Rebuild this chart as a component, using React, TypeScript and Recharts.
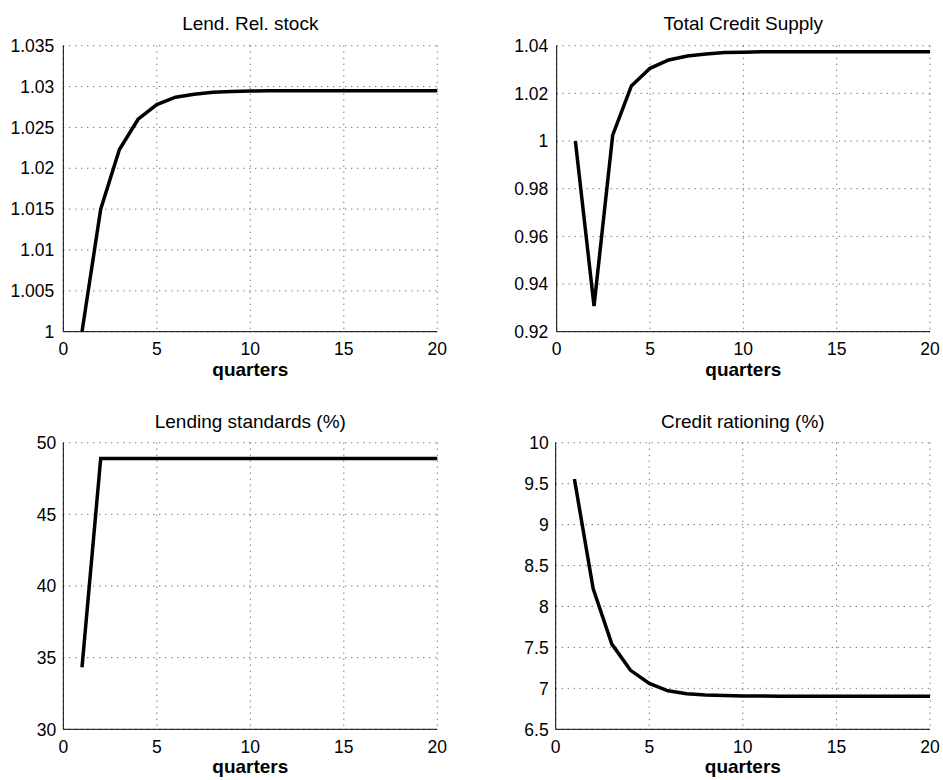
import React from 'react';
import { LineChart, Line, XAxis, YAxis, CartesianGrid } from 'recharts';

const quarters = [1, 2, 3, 4, 5, 6, 7, 8, 9, 10, 11, 12, 13, 14, 15, 16, 17, 18, 19, 20];

const lendRelStock = [
  1.0, 1.015, 1.0223, 1.026, 1.0278, 1.0287, 1.02905, 1.0293, 1.0294, 1.02945,
  1.0295, 1.0295, 1.0295, 1.0295, 1.0295, 1.0295, 1.0295, 1.0295, 1.0295, 1.0295,
];
const totalCreditSupply = [
  1.0, 0.9308, 1.0025, 1.0231, 1.0305, 1.034, 1.0357, 1.0365, 1.0371, 1.0373,
  1.0375, 1.0375, 1.0375, 1.0375, 1.0375, 1.0375, 1.0375, 1.0375, 1.0375, 1.0375,
];
const lendingStandards = [
  34.33, 48.9, 48.9, 48.9, 48.9, 48.9, 48.9, 48.9, 48.9, 48.9,
  48.9, 48.9, 48.9, 48.9, 48.9, 48.9, 48.9, 48.9, 48.9, 48.9,
];
const creditRationing = [
  9.556, 8.22, 7.54, 7.22, 7.06, 6.97, 6.935, 6.92, 6.912, 6.908,
  6.906, 6.905, 6.905, 6.905, 6.905, 6.905, 6.905, 6.905, 6.905, 6.905,
];

const xTicks = [0, 5, 10, 15, 20];
const lendRelTicks = [1, 1.005, 1.01, 1.015, 1.02, 1.025, 1.03, 1.035];
const creditSupplyTicks = [0.92, 0.94, 0.96, 0.98, 1, 1.02, 1.04];
const standardsTicks = [30, 35, 40, 45, 50];
const rationingTicks = [6.5, 7, 7.5, 8, 8.5, 9, 9.5, 10];

const FONT = '"Liberation Sans", Arial, Helvetica, sans-serif';
const TICK_SIZE = 17.5;

interface PanelProps {
  title: string;
  values: number[];
  yTicks: number[];
  left: number;
  top: number;
  width: number;
  height: number;
  yAxisWidth: number;
  marginTop: number;
  marginRight: number;
  xAxisHeight: number;
  labelOffset: number;
  tickGap: number;
  titleTop: number;
}

const Panel: React.FC<PanelProps> = (p) => {
  const data = quarters.map((q, i) => ({ q, v: p.values[i] }));
  const plotLeft = p.yAxisWidth;
  const plotWidth = p.width - p.yAxisWidth - p.marginRight;
  return (
    <div style={{ position: 'absolute', left: p.left, top: p.top, width: p.width, height: p.height }}>
      <div
        style={{
          position: 'absolute',
          left: plotLeft,
          width: plotWidth,
          top: p.titleTop,
          textAlign: 'center',
          fontSize: 19,
          lineHeight: '19px',
          fontFamily: FONT,
          color: '#000',
          whiteSpace: 'nowrap',
        }}
      >
        {p.title}
      </div>
      <LineChart
        width={p.width}
        height={p.height}
        data={data}
        margin={{ top: p.marginTop, right: p.marginRight, left: 0, bottom: 0 }}
      >
        <CartesianGrid stroke="#444" strokeDasharray="1 5" strokeWidth={1} />
        <XAxis
          dataKey="q"
          type="number"
          domain={[0, 20]}
          ticks={xTicks}
          height={p.xAxisHeight}
          axisLine={{ stroke: '#000', strokeWidth: 1 }}
          tickLine={false}
          tickSize={0}
          tickMargin={11}
          tick={{ fontSize: TICK_SIZE, fill: '#000', fontFamily: FONT }}
          label={{
            value: 'quarters',
            position: 'insideBottom',
            offset: p.labelOffset,
            style: { fontSize: 19, fontWeight: 'bold', fill: '#000', fontFamily: FONT },
          }}
        />
        <YAxis
          type="number"
          domain={[p.yTicks[0], p.yTicks[p.yTicks.length - 1]]}
          ticks={p.yTicks}
          width={p.yAxisWidth}
          axisLine={{ stroke: '#000', strokeWidth: 1 }}
          tickLine={false}
          tickSize={0}
          tickMargin={p.tickGap}
          tick={{ fontSize: TICK_SIZE, fill: '#000', fontFamily: FONT }}
          allowDataOverflow
        />
        <Line
          type="linear"
          dataKey="v"
          stroke="#000"
          strokeWidth={3.5}
          dot={false}
          activeDot={false}
          isAnimationActive={false}
        />
      </LineChart>
    </div>
  );
};

export default function App() {
  return (
    <div style={{ position: 'absolute', left: 0, top: 0, width: 943, height: 780, background: '#fff' }}>
      <Panel
        title="Lend. Rel. stock"
        values={lendRelStock}
        yTicks={lendRelTicks}
        left={0}
        top={0}
        width={470}
        height={390}
        yAxisWidth={63.3}
        marginTop={45.7}
        marginRight={32.7}
        xAxisHeight={58.3}
        labelOffset={14}
        tickGap={9}
        titleTop={14}
      />
      <Panel
        title="Total Credit Supply"
        values={totalCreditSupply}
        yTicks={creditSupplyTicks}
        left={480}
        top={0}
        width={463}
        height={390}
        yAxisWidth={76.7}
        marginTop={45.7}
        marginRight={13}
        xAxisHeight={58.3}
        labelOffset={14}
        tickGap={8.4}
        titleTop={14}
      />
      <Panel
        title="Lending standards (%)"
        values={lendingStandards}
        yTicks={standardsTicks}
        left={0}
        top={390}
        width={470}
        height={390}
        yAxisWidth={63.3}
        marginTop={52.7}
        marginRight={32.7}
        xAxisHeight={50.7}
        labelOffset={7}
        tickGap={7}
        titleTop={22}
      />
      <Panel
        title="Credit rationing (%)"
        values={creditRationing}
        yTicks={rationingTicks}
        left={480}
        top={390}
        width={463}
        height={390}
        yAxisWidth={75.7}
        marginTop={52.7}
        marginRight={13}
        xAxisHeight={50.7}
        labelOffset={7}
        tickGap={7}
        titleTop={22}
      />
    </div>
  );
}
